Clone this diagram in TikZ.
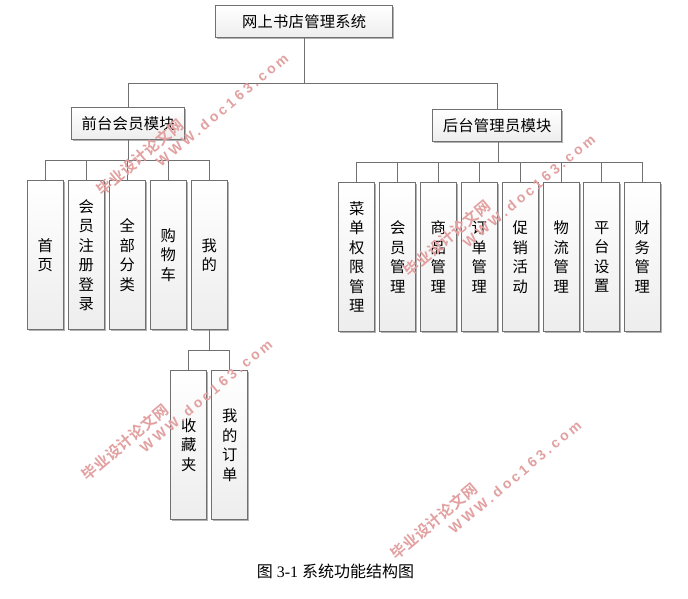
\documentclass[tikz,border=0pt]{standalone}
\usepackage{fontspec}
\usetikzlibrary{shadows,calc}
\newfontfamily\cjk{Noto Sans CJK SC}[LetterSpace=1.5]
\newfontfamily\cjkplain{Noto Sans CJK SC}
\newfontfamily\cjkw{Noto Sans CJK SC Bold}[LetterSpace=4]
\newfontfamily\latw{Liberation Sans Bold}[LetterSpace=24]
\newfontfamily\serifnum{Liberation Serif}
\definecolor{edge}{HTML}{707070}
\definecolor{wm}{HTML}{E2A0A0}
\tikzset{
  basebox/.style={draw=edge,line width=1.3pt,top color=white,bottom color=black!7,
    drop shadow={shadow xshift=1.5pt,shadow yshift=-1.5pt,opacity=.3,fill=black},
    inner sep=0pt,align=center,text=black,anchor=north west,
    font=\cjk\fontsize{15.3}{19.5}\selectfont},
  hbox/.style={basebox},
  vbox/.style={basebox,minimum width=36pt,minimum height=149pt},
  conn/.style={draw=edge,line width=1.25pt},
  wmcn/.style={text=wm,rotate=40,inner sep=0pt,font=\cjkw\fontsize{15}{15}\selectfont},
  wmen/.style={text=wm,rotate=40,inner sep=0pt,font=\latw\fontsize{14}{14}\selectfont},
}
\begin{document}
\begin{tikzpicture}[x=1pt,y=-1pt]
\useasboundingbox[fill=white] (0,0) rectangle (688,599);
\node[hbox,minimum width=177pt,minimum height=32pt] (top) at (215,5) {网上书店管理系统};
\node[hbox,minimum width=113pt,minimum height=32pt] (front) at (71,107) {前台会员模块};
\node[hbox,minimum width=129pt,minimum height=32pt] (back) at (432,109) {后台管理员模块};
\draw[conn] (top.south) -- ++(0,45) coordinate (bus);
\draw[conn] (front.north) |- (bus) -| (back.north);
% left group
\node[vbox] (a1) at (26.5,180) {首\\页};
\node[vbox] (a2) at (67.5,180) {会\\员\\注\\册\\登\\录};
\node[vbox] (a3) at (108.5,180) {全\\部\\分\\类};
\node[vbox] (a4) at (149.5,180) {购\\物\\车};
\node[vbox] (a5) at (190.5,180) {我\\的};
\draw[conn] (front.south) -- ++(0,20) coordinate (fb);
\draw[conn] (a1.north) |- (fb) -| (a5.north);
\foreach \k in {a2,a3,a4}{
  \draw[conn] (\k.north) -- (\k.north |- fb);
}
% right group
\node[vbox] (b1) at (338,182) {菜\\单\\权\\限\\管\\理};
\node[vbox] (b2) at (379,182) {会\\员\\管\\理};
\node[vbox] (b3) at (419.5,182) {商\\品\\管\\理};
\node[vbox] (b4) at (460.5,182) {订\\单\\管\\理};
\node[vbox] (b5) at (501.5,182) {促\\销\\活\\动};
\node[vbox] (b6) at (542.5,182) {物\\流\\管\\理};
\node[vbox] (b7) at (583,182) {平\\台\\设\\置};
\node[vbox] (b8) at (623.5,182) {财\\务\\管\\理};
\draw[conn] ([xshift=1.5pt]back.south) -- ++(0,20.5) coordinate (bb);
\draw[conn] (b1.north) |- (bb) -| (b8.north);
\foreach \k in {b2,b3,b4,b5,b6,b7}{
  \draw[conn] (\k.north) -- (\k.north |- bb);
}
% sub group
\node[vbox] (c1n) at (170,370) {收\\藏\\夹};
\node[vbox] (c2n) at (211,370) {我\\的\\订\\单};
\draw[conn] (a5.south) -- ++(0,20) coordinate (cb);
\draw[conn] (c1n.north) |- (cb) -| (c2n.north);
% caption
\node[inner sep=0pt,font=\fontsize{16}{16}\selectfont] (cap) at (335.5,571)
  {\cjkplain 图\hspace{4pt}{\serifnum 3-1}\hspace{4pt}系统功能结构图};
% watermarks
\node[wmcn] (w1a) at (140,157) {毕业设计论文网};
\node[wmen] (w1b) at (222,110) {WWW.doc163.com};
\node[wmcn] (w2a) at (125,442) {毕业设计论文网};
\node[wmen] (w2b) at (206,396) {WWW.doc163.com};
\node[wmcn] (w3a) at (447,238) {毕业设计论文网};
\node[wmen] (w3b) at (529,191) {WWW.doc163.com};
\node[wmcn] (w4a) at (434,521) {毕业设计论文网};
\node[wmen] (w4b) at (515,477) {WWW.doc163.com};
\end{tikzpicture}
\end{document}
